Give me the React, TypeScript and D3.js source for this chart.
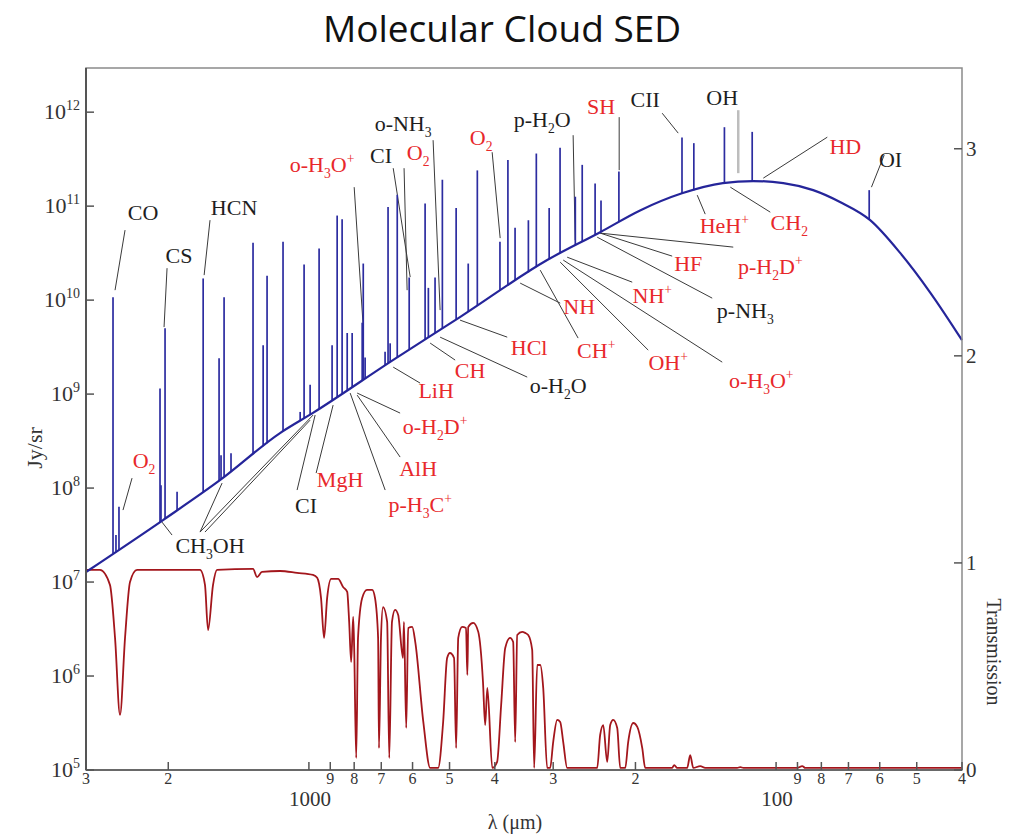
import React from 'react';
import * as d3 from 'd3';

const W = 1017;
const H = 837;

// ---- continuum (dust SED): wavelength (um) and Jy/sr
const contLambda = [3000, 2052, 1548, 1153, 980, 661, 475, 309, 238, 195, 159, 130, 112, 96.5, 83.3, 72.8, 62.9, 54.2, 46.7, 40];
const contFlux = [1.28e7, 4.57e7, 1.22e8, 3.85e8, 6.31e8, 2.3e9, 6.59e9, 2.67e10, 5.28e10, 9.06e10, 1.37e11, 1.76e11, 1.85e11, 1.76e11, 1.48e11, 1.1e11, 7.1e10, 3.16e10, 1.19e10, 3.75e9];

// ---- emission lines: wavelength (um) and peak intensity (Jy/sr)
const lineLambda = [2626, 2588, 2550, 2083, 2073, 2032, 1915, 1684, 1557, 1542, 1519, 1468, 1317, 1253, 1229, 1136, 1044, 1024, 994, 951, 892, 870, 849, 828, 808, 769, 765, 758, 687, 677, 670, 647, 610, 564, 555, 537, 518, 484, 456, 436, 390, 375, 362, 339, 326, 306, 290, 269, 260, 244, 237, 217, 159, 150, 129, 112.5, 63.2];
const linePeak = [1.07e10, 3.16e7, 6.31e7, 1.15e9, 1.07e8, 5.01e9, 9.12e7, 1.7e10, 2.4e9, 2.24e8, 1.07e10, 2.34e8, 4.07e10, 3.31e9, 1.82e10, 4.17e10, 6.46e8, 2.4e10, 1.26e9, 3.55e10, 3.31e9, 7.94e10, 7.24e10, 4.47e9, 4.47e9, 5.75e9, 2.45e10, 2.45e9, 2.82e9, 9.77e10, 3.47e9, 1.32e11, 1.74e10, 1.07e11, 1.35e10, 1.74e10, 1.91e11, 9.55e10, 2.45e10, 2.4e11, 4.17e10, 3.09e11, 5.89e10, 7.08e10, 3.63e11, 9.55e10, 4.17e11, 1.26e11, 2.75e11, 1.74e11, 1.15e11, 2.34e11, 5.37e11, 4.68e11, 6.92e11, 6.17e11, 1.48e11];

// ---- atmospheric transmission: wavelength (um) and transmission
const transLambda = [3000, 2800, 2666, 2600, 2537, 2475, 2415, 2333, 1710, 1669, 1644, 1604, 1573, 1317, 1291, 1260, 1153, 1060, 980, 960, 942, 928, 914, 896, 866, 845, 828, 820, 812, 804, 800, 792, 785, 769, 751, 732, 722, 711, 708, 701, 694, 680, 673, 664, 654, 644, 629, 626, 619, 613, 601, 592, 569, 550, 529, 516, 506, 499, 489, 484, 479, 470, 461, 458, 456, 445, 434, 424, 419.5, 415, 405, 395.5, 387.7, 380, 371, 365.4, 361.8, 358.2, 349.5, 344.4, 339.3, 332.7, 329.5, 324.6, 319.8, 315.1, 309, 304.5, 300, 294.1, 289.8, 285.5, 280, 241.5, 238, 234.4, 229.9, 226.5, 223.2, 218.8, 215.6, 210.3, 207.3, 202.2, 198.2, 193.4, 190.6, 166.9, 165.2, 162.8, 155, 152.7, 150.4, 145.3, 141.8, 121.1, 119.3, 117.5, 90.1, 87.9, 86.6, 40];
const transValue = [0.966, 0.966, 0.894, 0.638, 0.266, 0.638, 0.908, 0.966, 0.966, 0.894, 0.676, 0.894, 0.966, 0.971, 0.932, 0.957, 0.961, 0.952, 0.942, 0.928, 0.831, 0.638, 0.831, 0.923, 0.923, 0.884, 0.86, 0.715, 0.522, 0.739, 0.589, 0.058, 0.638, 0.831, 0.87, 0.87, 0.831, 0.638, 0.106, 0.638, 0.787, 0.715, 0.058, 0.715, 0.773, 0.749, 0.541, 0.715, 0.203, 0.686, 0.691, 0.618, 0.232, 0.01, 0.01, 0.232, 0.541, 0.565, 0.541, 0.106, 0.638, 0.691, 0.686, 0.459, 0.691, 0.71, 0.667, 0.425, 0.217, 0.396, 0.01, 0.039, 0.314, 0.589, 0.638, 0.618, 0.135, 0.652, 0.667, 0.662, 0.652, 0.58, 0.01, 0.507, 0.507, 0.396, 0.01, 0.01, 0.135, 0.242, 0.232, 0.135, 0.01, 0.01, 0.169, 0.217, 0.039, 0.217, 0.242, 0.203, 0.01, 0.01, 0.135, 0.227, 0.208, 0.106, 0.01, 0.01, 0.024, 0.01, 0.01, 0.072, 0.01, 0.019, 0.01, 0.01, 0.014, 0.01, 0.01, 0.019, 0.01, 0.01];

// ---- axes
const xTicks = [3000, 2000, 1000, 900, 800, 700, 600, 500, 400, 300, 200, 100, 90, 80, 70, 60, 50, 40];
const xTickLabels = ['3', '2', '', '9', '8', '7', '6', '5', '4', '3', '2', '', '9', '8', '7', '6', '5', '4'];
const xDecadeLabels = [1000, 100];
const yExponents = [5, 6, 7, 8, 9, 10, 11, 12];
const tTicks = [0, 1, 2, 3];

// ---- annotations: text, colour key, wavelength (um), log10 intensity of the baseline
const labelText = ['CO', 'CS', 'HCN', 'o-H_3O^+', 'o-NH_3', 'CI', 'O_2', 'O_2', 'p-H_2O', 'SH', 'CII', 'OH', 'HD', 'OI', 'HeH^+', 'CH_2', 'HF', 'p-H_2D^+', 'NH^+', 'p-NH_3', 'NH', 'HCl', 'CH^+', 'OH^+', 'o-H_3O^+', 'CH', 'o-H_2O', 'LiH', 'o-H_2D^+', 'AlH', 'MgH', 'p-H_3C^+', 'CI', 'CH_3OH', 'O_2'];
const labelRed = [0, 0, 0, 1, 0, 0, 1, 1, 0, 1, 0, 0, 1, 0, 1, 1, 1, 1, 1, 0, 1, 1, 1, 1, 1, 1, 0, 1, 1, 1, 1, 1, 0, 0, 1];
const labelLambda = [2265, 1897, 1446, 937, 628.6, 700.6, 583.8, 427.9, 316.7, 236.8, 190.6, 130.4, 71.1, 56.9, 129.1, 93.7, 154.2, 102.9, 184.1, 116.4, 263.9, 337.7, 242.7, 170.2, 107.6, 451.7, 292.7, 534.2, 536.9, 583.8, 857.5, 578, 1014, 1628, 2254];
const labelLogI = [10.851, 10.394, 10.904, 11.362, 11.798, 11.457, 11.489, 11.649, 11.84, 11.979, 12.053, 12.074, 11.553, 11.415, 10.713, 10.745, 10.309, 10.277, 9.968, 9.809, 9.851, 9.415, 9.383, 9.255, 9.064, 9.17, 9.011, 8.957, 8.574, 8.128, 8.011, 7.745, 7.734, 7.309, 8.213];

// leader lines: [lambda1, log I1, lambda2, log I2]
const leaders: number[][] = [
  [2475, 10.745, 2600, 10.106],
  [2012, 10.34, 2042, 9.713],
  [1628, 10.851, 1676, 10.266],
  [800, 11.202, 765.6, 9.734],
  [660, 11.404, 607, 10.245],
  [625.6, 11.404, 616.3, 10.106],
  [542.2, 11.702, 523.8, 9.894],
  [405.3, 11.574, 389.6, 10.66],
  [271.9, 11.755, 269.2, 10.638],
  [216.7, 11.947, 216.7, 11.383],
  [175.3, 11.989, 162, 11.777],
  [77.7, 11.734, 106.5, 11.298],
  [58.7, 11.543, 62.5, 11.202],
  [141.8, 10.915, 147.5, 11.117],
  [102.9, 10.936, 125.3, 11.202],
  [238, 10.713, 166.9, 10.468],
  [238, 10.713, 123.5, 10.564],
  [241.5, 10.67, 137, 10.021],
  [280, 10.457, 203.2, 10.191],
  [353, 10.181, 289.8, 9.968],
  [319.8, 10.319, 265.3, 9.596],
  [289.8, 10.404, 187.8, 9.468],
  [285.5, 10.426, 130.4, 9.34],
  [474.7, 9.787, 376.3, 9.606],
  [550.2, 9.543, 486.4, 9.362],
  [523.8, 9.606, 341, 9.181],
  [660, 9.287, 578, 9.117],
  [788.3, 9.011, 637.9, 8.798],
  [788.3, 8.989, 637.9, 8.33],
  [816, 9.011, 686.7, 7.979],
  [887.6, 8.883, 965, 8.16],
  [969.8, 8.777, 1060, 7.979],
  [1710, 7.532, 1534, 8.053],
  [1710, 7.532, 979.5, 8.777],
  [1669, 7.532, 994, 8.723],
  [1963, 7.5, 2063, 7.638],
  [2391, 8.106, 2500, 7.766],
];
// the OH marker (grey bar)
const ohMarker = [120.5, 12.021, 120.5, 11.351];

const SERIF = '"Liberation Serif", "DejaVu Serif", serif';
const RED = '#e8282b';
const BLACK = '#1e1e1e';

function Rich({ text, x, y, size, fill, anchor = 'middle', transform }: any) {
  const segs: { t: string; k: string }[] = [];
  for (let i = 0; i < text.length; i++) {
    const c = text[i];
    if ((c === '_' || c === '^') && i + 1 < text.length) {
      segs.push({ t: text[i + 1], k: c });
      i++;
    } else if (segs.length && segs[segs.length - 1].k === 'n') {
      segs[segs.length - 1].t += c;
    } else {
      segs.push({ t: c, k: 'n' });
    }
  }
  let cur = 0;
  return (
    <text x={x} y={y} fontSize={size} fill={fill} textAnchor={anchor} fontFamily={SERIF} transform={transform}>
      {segs.map((s, i) => {
        const target = s.k === '_' ? size * 0.28 : s.k === '^' ? -size * 0.42 : 0;
        const dy = target - cur;
        cur = target;
        return (
          <tspan key={i} dy={dy} fontSize={s.k === 'n' ? size : size * 0.62}>
            {s.t}
          </tspan>
        );
      })}
    </text>
  );
}

export default function App() {
  const x = d3.scaleLog().domain([3000, 40]).range([86, 962]);
  const y = d3.scaleLog().domain([1e5, Math.pow(10, 12.47)]).range([770, 68]);
  const yT = d3.scaleLinear().domain([0, 3.39]).range([770, 68]);

  const contLog = d3
    .scaleLinear()
    .domain(contLambda.map((v) => Math.log10(v)))
    .range(contFlux.map((v) => Math.log10(v)));

  const contPath = d3
    .line<number>()
    .x((_, i) => x(contLambda[i]))
    .y((d) => y(d))
    .curve(d3.curveMonotoneX)(contFlux) as string;

  const transPath = d3
    .line<number>()
    .x((_, i) => x(transLambda[i]))
    .y((d) => yT(d))
    .curve(d3.curveMonotoneX)(transValue) as string;

  const left = 86, right = 962, top = 68, bottom = 770;

  return (
    <svg width={W} height={H} style={{ position: 'absolute', left: 0, top: 0, background: '#fff' }}>
      <rect x={0} y={0} width={W} height={H} fill="#fff" />
      <text x={502} y={42} textAnchor="middle" fontFamily='"Open Sans", sans-serif' fontSize={37} fill="#111">
        Molecular Cloud SED
      </text>

      {/* transmission */}
      <path d={transPath} fill="none" stroke="#a3161c" strokeWidth={1.8} />

      {/* leader lines */}
      {leaders.map((l, i) => (
        <line key={'ld' + i} x1={x(l[0])} y1={y(Math.pow(10, l[1]))} x2={x(l[2])} y2={y(Math.pow(10, l[3]))} stroke="#3a3a3a" strokeWidth={1} />
      ))}
      <line x1={x(ohMarker[0])} y1={y(Math.pow(10, ohMarker[1]))} x2={x(ohMarker[2])} y2={y(Math.pow(10, ohMarker[3]))} stroke="#bdbdbd" strokeWidth={2.5} />

      {/* emission lines */}
      {lineLambda.map((lam, i) => {
        const base = Math.pow(10, contLog(Math.log10(lam)));
        return (
          <line key={'ln' + i} x1={x(lam)} x2={x(lam)} y1={y(base)} y2={y(linePeak[i])} stroke="#2c2ca0" strokeWidth={1.7} />
        );
      })}

      {/* continuum */}
      <path d={contPath} fill="none" stroke="#25259a" strokeWidth={2.2} />

      {/* frame */}
      <rect x={left} y={top} width={right - left} height={bottom - top} fill="none" stroke="#8a8a8a" strokeWidth={1.5} />
      <line x1={left} x2={left} y1={top} y2={bottom} stroke="#555" strokeWidth={2} />
      <line x1={left} x2={right} y1={bottom} y2={bottom} stroke="#555" strokeWidth={1.6} />

      {/* left axis */}
      {yExponents.map((e) => {
        const yy = y(Math.pow(10, e));
        return (
          <g key={'ye' + e}>
            <line x1={left} x2={left + 8} y1={yy} y2={yy} stroke="#555" strokeWidth={1.5} />
            <text x={80} y={yy + 7} textAnchor="end" fontFamily={SERIF} fontSize={22} fill="#333">
              10
              <tspan dy={-9} fontSize={14}>{String(e)}</tspan>
            </text>
          </g>
        );
      })}

      {/* right axis */}
      {tTicks.map((t) => {
        const yy = yT(t);
        return (
          <g key={'t' + t}>
            <line x1={right - 8} x2={right} y1={yy} y2={yy} stroke="#555" strokeWidth={1.5} />
            <text x={966} y={yy + 7} fontFamily={SERIF} fontSize={21} fill="#333">
              {t}
            </text>
          </g>
        );
      })}

      {/* bottom axis */}
      {xTicks.map((v, i) => {
        const xx = x(v);
        return (
          <g key={'xt' + i}>
            <line x1={xx} x2={xx} y1={bottom} y2={bottom - 8} stroke="#555" strokeWidth={1.5} />
            {xTickLabels[i] && (
              <text x={xx} y={784} textAnchor="middle" fontFamily={SERIF} fontSize={16} fill="#333">
                {xTickLabels[i]}
              </text>
            )}
          </g>
        );
      })}
      {xDecadeLabels.map((v) => (
        <text key={'xd' + v} x={x(v) + 1} y={806} textAnchor="middle" fontFamily={SERIF} fontSize={21} fill="#333">
          {String(v)}
        </text>
      ))}

      {/* axis titles */}
      <text x={515} y={829} textAnchor="middle" fontFamily={SERIF} fontSize={20} fill="#333">
        λ (μm)
      </text>
      <text transform="translate(42,448) rotate(-90)" textAnchor="middle" fontFamily={SERIF} fontSize={22} fill="#333">
        Jy/sr
      </text>
      <text transform="translate(987,652) rotate(90)" textAnchor="middle" fontFamily={SERIF} fontSize={20} fill="#333">
        Transmission
      </text>

      {/* molecule labels */}
      {labelText.map((t, i) => (
        <Rich key={'lb' + i} text={t} x={x(labelLambda[i])} y={y(Math.pow(10, labelLogI[i]))} size={22} fill={labelRed[i] ? RED : BLACK} />
      ))}
    </svg>
  );
}
